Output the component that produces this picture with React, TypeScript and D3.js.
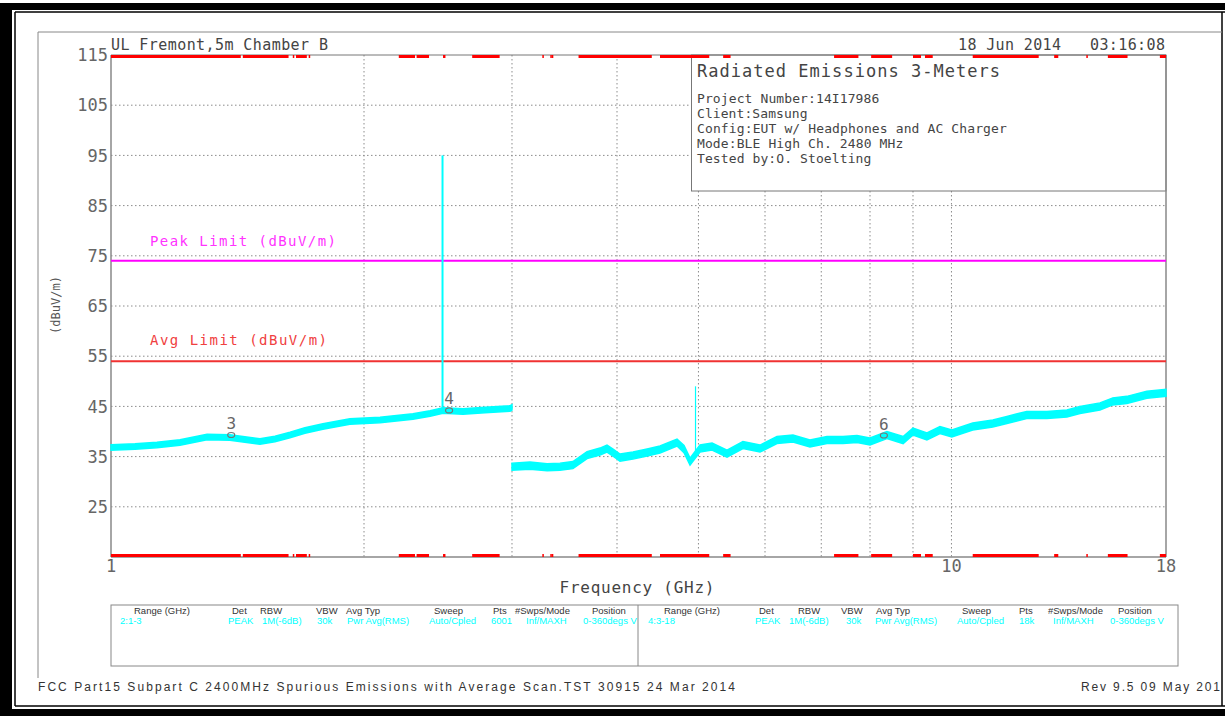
import React from 'react';
import * as d3 from 'd3';

const W = 1225;
const H = 719;

// axis ticks
const yTicks = [25, 35, 45, 55, 65, 75, 85, 95, 105, 115];
const xTickLabels = [1, 10, 18];
const xGridGHz = [2, 3, 4, 5, 6, 7, 8, 9, 10];

// restricted bands drawn as red bars top and bottom (GHz)
const bandStart = [1.0, 1.435, 1.6455, 1.66, 1.7188, 2.2, 2.31, 2.4835, 2.69, 3.26, 3.332, 3.3458, 3.6, 4.5, 5.35, 7.25, 8.025, 9.0, 9.3, 10.6, 13.25, 14.47, 15.35, 17.7];
const bandEnd = [1.427, 1.6265, 1.6465, 1.71, 1.7222, 2.3, 2.39, 2.5, 2.9, 3.267, 3.339, 3.358, 4.4, 5.15, 5.46, 7.75, 8.5, 9.2, 9.5, 12.7, 13.4, 14.5, 16.2, 18.0];

// limits (dBuV/m)
const peakLimit = 74;
const avgLimit = 54;

// scan 2: 1-3 GHz
const scan1Freq = [1.0, 1.068, 1.134, 1.208, 1.301, 1.385, 1.443, 1.504, 1.567, 1.633, 1.701, 1.787, 1.924, 2.09, 2.287, 2.397, 2.483, 2.623, 2.786, 2.984, 3.0];
const scan1Level = [36.8, 37.0, 37.3, 37.8, 38.9, 38.8, 38.4, 38.0, 38.5, 39.3, 40.2, 41.0, 42.0, 42.3, 43.0, 43.6, 44.2, 44.0, 44.3, 44.6, 44.8];

// scan 4: 3-18 GHz
const scan2Freq = [3.0, 3.152, 3.303, 3.421, 3.545, 3.685, 3.818, 3.892, 3.957, 4.033, 4.179, 4.344, 4.5, 4.715, 4.806, 4.886, 5.021, 5.19, 5.407, 5.648, 5.918, 6.2, 6.478, 6.786, 7.11, 7.43, 7.72, 8.0, 8.38, 8.76, 9.0, 9.35, 9.69, 10.01, 10.6, 11.2, 11.64, 12.29, 12.99, 13.72, 14.22, 15.02, 15.56, 16.17, 17.08, 18.0];
const scan2Level = [33.0, 33.2, 32.9, 33.0, 33.3, 35.3, 36.0, 36.6, 35.8, 34.8, 35.2, 35.8, 36.4, 37.8, 36.5, 34.0, 36.6, 37.0, 35.6, 37.3, 36.6, 38.3, 38.6, 37.6, 38.3, 38.3, 38.5, 38.0, 39.3, 38.3, 40.0, 39.0, 40.3, 39.6, 41.0, 41.6, 42.3, 43.3, 43.3, 43.6, 44.3, 45.0, 46.0, 46.3, 47.3, 47.7];

// narrow spikes (fundamental and 2nd harmonic)
const spikeFreq = [2.48, 4.96];
const spikeBase = [44.2, 35.0];
const spikeTop = [95, 49];

// markers
const markerNames = ['3', '4', '6'];
const markerFreq = [1.39, 2.525, 8.31];
const markerLevel = [39.3, 44.2, 39.2];

// info box
const infoTitle = 'Radiated Emissions 3-Meters';
const infoLines = [
  'Project Number:14I17986',
  'Client:Samsung',
  'Config:EUT w/ Headphones and AC Charger',
  'Mode:BLE High Ch. 2480 MHz',
  'Tested by:O. Stoelting',
];

// settings table
const tableHeaders = ['Range (GHz)', 'Det', 'RBW', 'VBW', 'Avg Typ', 'Sweep', 'Pts', '#Swps/Mode', 'Position'];
const tableRow1 = ['2:1-3', 'PEAK', '1M(-6dB)', '30k', 'Pwr Avg(RMS)', 'Auto/Cpled', '6001', 'Inf/MAXH', '0-360degs V'];
const tableRow2 = ['4:3-18', 'PEAK', '1M(-6dB)', '30k', 'Pwr Avg(RMS)', 'Auto/Cpled', '18k', 'Inf/MAXH', '0-360degs V'];

const MONO = '"DejaVu Sans Mono", "Liberation Mono", monospace';
const NARROW = '"Liberation Sans Narrow", "Liberation Sans", sans-serif';

export default function App() {
  const x = d3.scaleLog().domain([1, 18]).range([111, 1166]);
  const y = d3.scaleLinear().domain([15, 115]).range([557, 55]);
  const left = x.range()[0];
  const right = x.range()[1];
  const top = y.range()[1];
  const bottom = y.range()[0];

  // trace drawn as a narrow band around the read levels
  const band = (freqs: number[], levels: number[], spread: number) =>
    d3.area<number>()
      .x((_, i) => x(freqs[i]))
      .y0((d) => y(d - spread))
      .y1((d) => y(d + spread))(levels) || '';

  // column layout of the settings table (left panel, right panel)
  const hdrX1 = [134, 232, 260, 316, 346, 434, 493, 515, 592];
  const valX1 = [120, 228, 262, 317, 347, 429, 491, 526, 583];
  const hdrX2 = [664, 759, 798, 841, 876, 962, 1019, 1048, 1118];
  const valX2 = [648, 755, 789, 846, 875, 957, 1019, 1053, 1110];

  const cyan = '#00ffff';
  const grid = '#8c8c8c';

  return (
    <div style={{ position: 'fixed', left: 0, top: 0, width: W, height: H, overflow: 'hidden', background: '#fff' }}>
      <svg width={W} height={H} style={{ display: 'block' }}>
        {/* outer frame */}
        <rect x={0} y={3} width={W + 20} height={7} fill="#000" />
        <rect x={0} y={3} width={12} height={713} fill="#000" />
        <rect x={0} y={709} width={W + 20} height={7} fill="#000" />
        <line x1={15} x2={W + 20} y1={12} y2={12} stroke="#000" strokeWidth={1.5} />
        <line x1={15} x2={15} y1={12} y2={706} stroke="#000" strokeWidth={1.5} />
        <line x1={15} x2={W + 20} y1={706} y2={706} stroke="#000" strokeWidth={1.5} />
        <line x1={1222} x2={1222} y1={12} y2={706} stroke="#000" strokeWidth={1.5} />

        {/* gray page frame */}
        <line x1={38} x2={1222} y1={32} y2={32} stroke="#888" />
        <line x1={38} x2={38} y1={32} y2={678} stroke="#888" />

        {/* header */}
        <text x={111} y={50} fontFamily={MONO} fontSize={15} fill="#444" textLength={217} lengthAdjust="spacing">UL Fremont,5m Chamber B</text>
        <text x={958} y={50} fontFamily={MONO} fontSize={15} fill="#444" textLength={103} lengthAdjust="spacing">18 Jun 2014</text>
        <text x={1090} y={50} fontFamily={MONO} fontSize={15} fill="#444" textLength={75} lengthAdjust="spacing">03:16:08</text>

        {/* horizontal grid */}
        {yTicks.filter((t) => t < 115).map((t) => (
          <line key={'hg' + t} x1={left} x2={right} y1={y(t)} y2={y(t)} stroke={grid} strokeDasharray="1.5,2.5" />
        ))}
        {/* vertical grid */}
        {xGridGHz.map((f) => (
          <line key={'vg' + f} x1={x(f)} x2={x(f)} y1={top} y2={bottom} stroke={grid} strokeDasharray="1.5,2.5" />
        ))}

        {/* info box */}
        <rect x={691.5} y={top} width={right - 691.5} height={136} fill="#fff" stroke="#777" />
        <text x={697} y={77} fontFamily={MONO} fontSize={17} fill="#444" textLength={303} lengthAdjust="spacing">{infoTitle}</text>
        {infoLines.map((s, i) => (
          <text key={s} x={697} y={102.5 + i * 15.1} fontFamily={MONO} fontSize={13} fill="#444" textLength={s.length * 7.97 - 1} lengthAdjust="spacing">{s}</text>
        ))}

        {/* plot frame */}
        <line x1={left} x2={right} y1={top} y2={top} stroke="#777" />
        <line x1={left} x2={right} y1={bottom} y2={bottom} stroke="#888" strokeWidth={1.5} />
        <line x1={left} x2={left} y1={top} y2={bottom} stroke="#888" strokeWidth={1.5} />
        <line x1={right} x2={right} y1={top} y2={bottom} stroke="#888" strokeWidth={1.5} />

        {/* restricted band bars */}
        {bandStart.map((s, i) => (
          <g key={'b' + i}>
            <rect x={x(s)} y={top} width={Math.max(1.5, x(bandEnd[i]) - x(s))} height={3} fill="#ff0000" />
            <rect x={x(s)} y={bottom - 3} width={Math.max(1.5, x(bandEnd[i]) - x(s))} height={3} fill="#ff0000" />
          </g>
        ))}

        {/* limits */}
        <line x1={left} x2={right} y1={y(peakLimit)} y2={y(peakLimit)} stroke="#ff00ff" strokeWidth={2} />
        <line x1={left} x2={right} y1={y(avgLimit)} y2={y(avgLimit)} stroke="#f03232" strokeWidth={2} />
        <text x={150} y={246} fontFamily={MONO} fontSize={14} fill="#ff33ff" textLength={186} lengthAdjust="spacing">Peak Limit (dBuV/m)</text>
        <text x={150} y={345} fontFamily={MONO} fontSize={14} fill="#f04040" textLength={177} lengthAdjust="spacing">Avg Limit (dBuV/m)</text>

        {/* traces */}
        <path d={band(scan1Freq, scan1Level, 0.55)} fill={cyan} stroke={cyan} strokeWidth={1.5} strokeLinejoin="miter" />
        <path d={band(scan2Freq, scan2Level, 0.7)} fill={cyan} stroke={cyan} strokeWidth={1.5} strokeLinejoin="miter" />
        {spikeFreq.map((f, i) => (
          <line key={'sp' + i} x1={x(f)} x2={x(f)} y1={y(spikeBase[i])} y2={y(spikeTop[i])} stroke={cyan} strokeWidth={i === 0 ? 2 : 1.2} />
        ))}

        {/* markers */}
        {markerNames.map((m, i) => (
          <g key={'m' + m} fill="none" stroke="#777">
            <ellipse cx={x(markerFreq[i])} cy={y(markerLevel[i])} rx={3.5} ry={2.5} strokeWidth={1.2} />
            <text x={x(markerFreq[i])} y={y(markerLevel[i]) - 6} textAnchor="middle" fontFamily={MONO} fontSize={16} fill="#666" stroke="none">{m}</text>
          </g>
        ))}

        {/* y tick labels */}
        {yTicks.map((t) => (
          <text key={'yt' + t} x={108} y={y(t)} dy="0.36em" textAnchor="end" fontFamily={MONO} fontSize={17} fill="#666">{t}</text>
        ))}
        <text transform="translate(60,305) rotate(-90)" textAnchor="middle" fontFamily={MONO} fontSize={12} fill="#555">(dBuV/m)</text>

        {/* x tick labels */}
        {xTickLabels.map((t) => (
          <text key={'xt' + t} x={x(t)} y={572} textAnchor="middle" fontFamily={MONO} fontSize={17} fill="#666">{t}</text>
        ))}
        <text x={637} y={593} textAnchor="middle" fontFamily={MONO} fontSize={16} fill="#444" textLength={155} lengthAdjust="spacing">Frequency (GHz)</text>

        {/* settings table */}
        <rect x={111} y={605} width={1067} height={61} fill="none" stroke="#888" />
        <line x1={638} x2={638} y1={605} y2={666} stroke="#888" />
        {tableHeaders.map((h, i) => (
          <g key={'th' + i} fontFamily={NARROW} fontSize={9.5} fill="#333">
            <text x={hdrX1[i]} y={614}>{h}</text>
            <text x={hdrX2[i]} y={614}>{h}</text>
          </g>
        ))}
        {tableRow1.map((v, i) => (
          <g key={'tv' + i} fontFamily={NARROW} fontSize={9.5} fill={cyan}>
            <text x={valX1[i]} y={624}>{v}</text>
            <text x={valX2[i]} y={624}>{tableRow2[i]}</text>
          </g>
        ))}

        {/* footer */}
        <text x={38} y={691} fontFamily={NARROW} fontSize={12} fill="#333" textLength={697} lengthAdjust="spacing">FCC Part15 Subpart C 2400MHz Spurious Emissions with Average Scan.TST 30915 24 Mar 2014</text>
        <text x={1081} y={691} fontFamily={NARROW} fontSize={12} fill="#333" textLength={139} lengthAdjust="spacing">Rev 9.5 09 May 201</text>
      </svg>
    </div>
  );
}
